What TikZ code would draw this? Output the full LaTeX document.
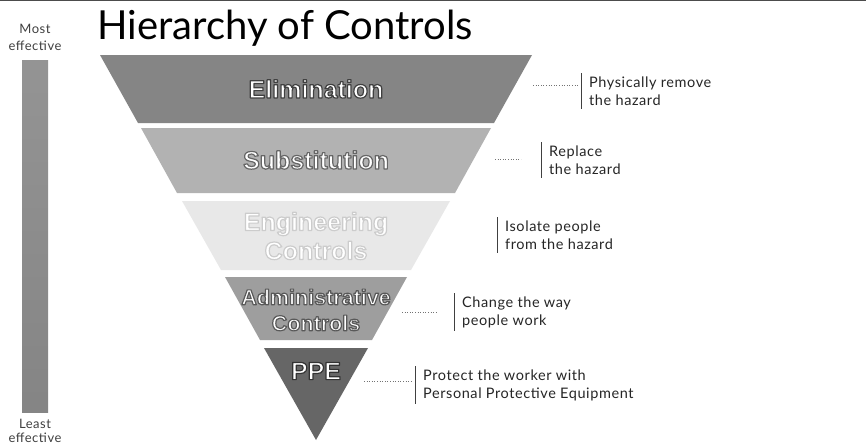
\documentclass[tikz,border=0pt]{standalone}
\usepackage{fontspec}
\setmainfont{Lato}
\newfontfamily\bandfont{Liberation Sans}
\newfontfamily\notefont{Lato}[LetterSpace=4]

% white lettering with a stroked outline of grey level #1
\newcommand\outlinedtext[2]{%
  \special{pdf:literal direct #1 G 1.2 w 1 j 2 Tr}#2\special{pdf:literal direct 0 Tr}}

\tikzset{
  band/.style={draw=none},
  bandlabel/.style={font=\bandfont\bfseries\fontsize{25}{29}\selectfont, text=white, align=center, inner sep=0pt},
  note/.style={anchor=west, align=left, inner xsep=0pt, inner ysep=3pt, font=\notefont\fontsize{14.5}{18}\selectfont, text=black!85},
  bar/.style={line width=0.9pt, black!75},
  leader/.style={dotted, line width=0.6pt, black!55},
  scale label/.style={align=center, font=\notefont\fontsize{13}{17}\selectfont, text=black!75, inner sep=0pt}
}

\begin{document}
\begin{tikzpicture}[x=1pt, y=-1pt]
  \useasboundingbox (0,0) rectangle (866,447);
  \fill[white] (0,0) rectangle (866,447);
  % rule along the top edge
  \draw[line width=1.2pt, black!70] (0,0.6) -- (866,0.6);

  % title
  \node[anchor=base west, inner sep=0pt, font=\fontsize{40}{40}\selectfont] (title) at (97,39) {Hierarchy of Controls};

  % effectiveness scale
  \shade[top color=black!42, middle color=black!28, bottom color=black!48] (22,60) rectangle (48,412);
  \node[scale label] (most) at (35,37) {Most\\effective};
  \node[scale label, font=\notefont\fontsize{13}{14}\selectfont] (least) at (35,431) {Least\\effective};

  % inverted pyramid bands
  \fill[band, black!48] (100,55) -- (532,55) -- (494,123) -- (138,123) -- cycle;
  \fill[band, black!30] (141,128) -- (491,128) -- (455,193) -- (177,193) -- cycle;
  \fill[band, black!9] (182,201) -- (450,201) -- (411,270) -- (221,270) -- cycle;
  \fill[band, black!38] (225,277) -- (407,277) -- (372,340) -- (260,340) -- cycle;
  \fill[band, black!60] (264,348) -- (368,348) -- (316,440) -- cycle;

  % band labels
  \node[bandlabel] (elim) at (316,89) {\outlinedtext{0.25}{Elimination}};
  \node[bandlabel] (subst) at (316,160) {\outlinedtext{0.4}{Substitution}};
  \node[bandlabel] (eng) at (316,236) {\outlinedtext{0.8}{Engineering}\\\outlinedtext{0.8}{Controls}};
  \node[bandlabel, font=\bandfont\bfseries\fontsize{21.5}{26}\selectfont] (admin) at (316,310) {\outlinedtext{0.35}{Administrative}\\\outlinedtext{0.35}{Controls}};
  \node[bandlabel] (ppe) at (316,371) {\outlinedtext{0.2}{PPE}};

  % descriptions
  \node[note] (d1) at (589,91) {Physically remove\\the hazard};
  \node[note] (d2) at (549,160) {Replace\\the hazard};
  \node[note] (d3) at (505,235) {Isolate people\\from the hazard};
  \node[note] (d4) at (462,312) {Change the way\\people work};
  \node[note] (d5) at (423,385) {Protect the worker with\\Personal Protective Equipment};

  \foreach \d in {d1,d2,d3,d4,d5}{
    \draw[bar] ([xshift=-8pt]\d.north west) -- ([xshift=-8pt]\d.south west);
  }

  % leaders from the bands to the descriptions
  \coordinate (e1a) at (533,85);  \coordinate (e1b) at (578,85);
  \coordinate (e2a) at (495,159); \coordinate (e2b) at (521,159);
  \coordinate (e4a) at (402,312); \coordinate (e4b) at (436,312);
  \coordinate (e5a) at (364,381); \coordinate (e5b) at (413,381);
  \draw[leader] (e1a) -- (e1b);
  \draw[leader] (e2a) -- (e2b);
  \draw[leader] (e4a) -- (e4b);
  \draw[leader] (e5a) -- (e5b);
\end{tikzpicture}
\end{document}
